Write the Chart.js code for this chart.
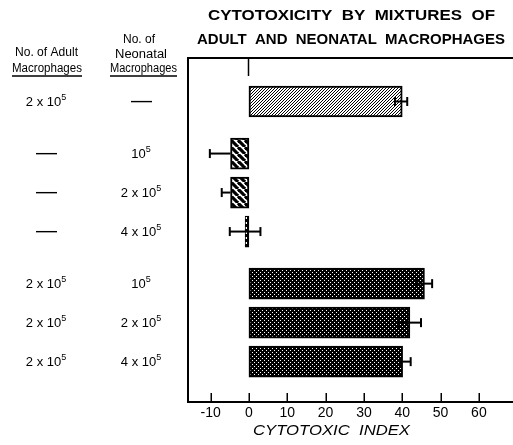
<!DOCTYPE html>
<html>
<head>
<meta charset="utf-8">
<script src="https://cdn.jsdelivr.net/npm/chart.js@4.4.1/dist/chart.umd.min.js"></script>
<style>
  html, body { margin: 0; padding: 0; background: #fff; }
  #wrap { width: 513px; height: 445px; position: relative; }
</style>
</head>
<body>
<div id="wrap"><canvas id="c" width="513" height="445"></canvas></div>
<script>
// ---------------- data ----------------
const titleLines = ['CYTOTOXICITY  BY  MIXTURES  OF', 'ADULT  AND  NEONATAL  MACROPHAGES'];
const adultHeader = ['No. of Adult', 'Macrophages'];
const neonatalHeader = ['No. of', 'Neonatal', 'Macrophages'];
const adultCells    = ['2 x 10^5', '—', '—', '—', '2 x 10^5', '2 x 10^5', '2 x 10^5'];
const neonatalCells = ['—', '10^5', '2 x 10^5', '4 x 10^5', '10^5', '2 x 10^5', '4 x 10^5'];
const rowGroup      = [0, 1, 1, 1, 2, 2, 2];
const cytotoxicIndex = [40, -4.8, -4.8, -1, 45.8, 42, 40.1];
const errorLow       = [1.9, 5.4, 2.3, 4, 2, 3.1, 0.7];
const errorHigh      = [1.3, 0, 0, 4, 2, 2.9, 2.1];
const xTicks = [-10, 0, 10, 20, 30, 40, 50, 60];
const xTitle = 'CYTOTOXIC  INDEX';

// ---------------- patterns ----------------
function tile(w, h, draw) {
  const c = document.createElement('canvas'); c.width = w; c.height = h;
  const g = c.getContext('2d'); draw(g, w, h);
  return document.getElementById('c').getContext('2d').createPattern(c, 'repeat');
}
function hatch(p, lw, dir, fg, bg) {
  return tile(p, p, (g) => {
    g.fillStyle = bg; g.fillRect(0, 0, p, p);
    g.strokeStyle = fg; g.lineWidth = lw;
    for (let k = -1; k <= 1; k++) {
      g.beginPath();
      if (dir === '/') { g.moveTo(k * p, p); g.lineTo(k * p + p, 0); }
      else { g.moveTo(k * p, 0); g.lineTo(k * p + p, p); }
      g.stroke();
    }
  });
}
const patFine = hatch(3, 1, '/', '#000', '#fff');
const patCoarse = hatch(7, 3.2, '\\', '#000', '#fff');
const patDots = tile(4, 4, (g) => {
  g.fillStyle = '#000'; g.fillRect(0, 0, 4, 4);
  g.fillStyle = '#fff';
  g.fillRect(0, 0, 1, 1); g.fillRect(2, 2, 1, 1);
});
const patThin = tile(4, 5, (g) => {
  g.fillStyle = '#000'; g.fillRect(0, 0, 4, 5);
  g.fillStyle = '#fff'; g.fillRect(1, 2, 2, 2);
});
const groupFill = [patFine, patCoarse, patCoarse, patThin, patDots, patDots, patDots];

// row positions: consecutive rows, with an extra gap between groups
const rowPos = rowGroup.map((g, i) => i + g * 0.335);

// ---------------- helpers ----------------
function fitText(ctx, text, cx, cy, w, font) {
  ctx.save();
  ctx.font = font;
  const m = ctx.measureText(text).width;
  ctx.translate(cx, cy);
  ctx.scale(w / m, 1);
  ctx.textAlign = 'center'; ctx.textBaseline = 'middle';
  ctx.fillStyle = '#000';
  ctx.fillText(text, 0, 0);
  ctx.restore();
}
function cellText(ctx, text, cx, cy) {
  ctx.save();
  ctx.fillStyle = '#000';
  ctx.textBaseline = 'middle';
  if (text === '—') {
    ctx.fillRect(cx - 10, cy - 0.6, 21, 1.4);
    ctx.restore(); return;
  }
  const parts = text.split('^');
  const base = parts[0], sup = parts[1] || '';
  ctx.font = '13px "Liberation Sans"';
  const wb = ctx.measureText(base).width;
  ctx.font = '9px "Liberation Sans"';
  const ws = ctx.measureText(sup).width;
  const x0 = cx - (wb + ws) / 2;
  ctx.textAlign = 'left';
  ctx.font = '13px "Liberation Sans"';
  ctx.fillText(base, x0, cy + 1);
  ctx.font = '9px "Liberation Sans"';
  ctx.fillText(sup, x0 + wb, cy - 4);
  ctx.restore();
}

const decor = {
  id: 'decor',
  afterDatasetsDraw(chart) {
    const ctx = chart.ctx, ca = chart.chartArea;
    const xs = chart.scales.x, ys = chart.scales.y;
    ctx.save();
    // frame
    ctx.strokeStyle = '#000'; ctx.lineWidth = 2;
    ctx.beginPath();
    ctx.moveTo(ca.left, ca.bottom); ctx.lineTo(ca.left, ca.top); ctx.lineTo(ca.right, ca.top);
    ctx.moveTo(ca.left - 1, ca.bottom); ctx.lineTo(ca.right, ca.bottom);
    ctx.stroke();
    // tick marks (inward)
    ctx.lineWidth = 1.5;
    xTicks.forEach(v => {
      const px = Math.round(xs.getPixelForValue(v)) + 0.25;
      ctx.beginPath(); ctx.moveTo(px, ca.bottom); ctx.lineTo(px, ca.bottom - 9); ctx.stroke();
    });
    const p0 = Math.round(xs.getPixelForValue(0)) - 0.5;
    ctx.beginPath(); ctx.moveTo(p0, ca.top); ctx.lineTo(p0, ca.top + 18); ctx.stroke();
    // error bars
    ctx.lineWidth = 2;
    cytotoxicIndex.forEach((v, i) => {
      const py = ys.getPixelForValue(rowPos[i]);
      const a = xs.getPixelForValue(v - errorLow[i]);
      const b = xs.getPixelForValue(v + errorHigh[i]);
      ctx.beginPath(); ctx.moveTo(a, py); ctx.lineTo(b, py); ctx.stroke();
      if (errorLow[i] > 0) { ctx.beginPath(); ctx.moveTo(a, py - 4.5); ctx.lineTo(a, py + 4.5); ctx.stroke(); }
      if (errorHigh[i] > 0) { ctx.beginPath(); ctx.moveTo(b, py - 4.5); ctx.lineTo(b, py + 4.5); ctx.stroke(); }
    });
    ctx.restore();

    // titles
    fitText(ctx, titleLines[0], 351.5, 16, 287, 'bold 15px "Liberation Sans"');
    fitText(ctx, titleLines[1], 351, 40, 308, 'bold 15px "Liberation Sans"');
    fitText(ctx, xTitle, 331.5, 431, 157, 'italic 14px "Liberation Sans"');

    // column headers
    const hf = '12.5px "Liberation Sans"';
    fitText(ctx, adultHeader[0], 46.5, 53, 63, hf);
    fitText(ctx, adultHeader[1], 47, 69, 70, hf);
    fitText(ctx, neonatalHeader[0], 139, 40, 32, hf);
    fitText(ctx, neonatalHeader[1], 141, 55, 52, hf);
    fitText(ctx, neonatalHeader[2], 143.5, 69, 67, hf);
    ctx.save();
    ctx.strokeStyle = '#000'; ctx.lineWidth = 1.3;
    ctx.beginPath();
    ctx.moveTo(12, 76); ctx.lineTo(82, 76);
    ctx.moveTo(110, 76); ctx.lineTo(177, 76);
    ctx.stroke();
    ctx.restore();

    // row labels
    adultCells.forEach((t, i) => {
      const py = ys.getPixelForValue(rowPos[i]);
      cellText(ctx, t, 46, py);
      cellText(ctx, neonatalCells[i], 141, py);
    });
  }
};

new Chart(document.getElementById('c'), {
  type: 'bar',
  data: {
    datasets: [{
      data: cytotoxicIndex.map((v, i) => ({ x: v, y: rowPos[i] })),
      backgroundColor: groupFill,
      borderColor: '#000',
      borderWidth: cytotoxicIndex.map((v, i) => i === 3 ? 1 : 2),
      barThickness: 31,
      borderSkipped: false
    }]
  },
  options: {
    indexAxis: 'y',
    responsive: false,
    animation: false,
    devicePixelRatio: 1,
    layout: { padding: { left: 188, right: 0, top: 58, bottom: 0 } },
    plugins: { legend: { display: false }, title: { display: false }, tooltip: { enabled: false } },
    scales: {
      x: {
        type: 'linear',
        min: -15.9, max: 68.9,
        grid: { display: false, drawTicks: false, tickLength: 0 },
        border: { display: false },
        afterBuildTicks(scale) { scale.ticks = xTicks.map(v => ({ value: v })); },
        afterFit(scale) { scale.height = 43; },
        ticks: { color: '#000', padding: 3, font: { family: 'Liberation Sans', size: 14 }, maxRotation: 0, autoSkip: false }
      },
      y: {
        type: 'linear',
        reverse: true,
        offset: false,
        grid: { offset: false },
        min: -1.115, max: 7.705,
        display: false
      }
    }
  },
  plugins: [decor]
});
</script>
</body>
</html>
